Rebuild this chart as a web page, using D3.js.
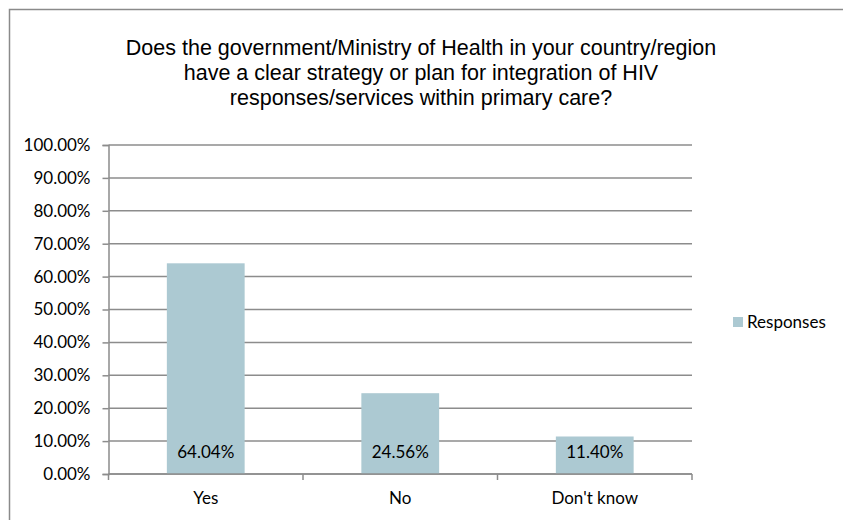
<!DOCTYPE html>
<html>
<head>
<meta charset="utf-8">
<script src="https://cdn.jsdelivr.net/npm/d3@7"></script>
<style>
  body { margin: 0; background: #fff; }
  svg { display: block; }
</style>
</head>
<body>
<div id="chart"></div>
<script>
// chart data
const categories = ['Yes', 'No', "Don't know"];
const responses = [64.04, 24.56, 11.40];
const yTicks = [0, 10, 20, 30, 40, 50, 60, 70, 80, 90, 100];
const titleLines = [
  'Does the government/Ministry of Health in your country/region',
  'have a clear strategy or plan for integration of HIV',
  'responses/services within primary care?'
];
const seriesName = 'Responses';

const width = 843, height = 520;
const barColor = '#acc9d2';
const gridColor = '#8c8c8c';
const labelFont = 'Lato, "Open Sans", sans-serif';
const labelSize = 17;

const svg = d3.select('#chart').append('svg')
  .attr('width', width)
  .attr('height', height);

// outer chart border (runs off the right and bottom edges)
svg.append('rect')
  .attr('x', 9.5).attr('y', 9.5)
  .attr('width', 900).attr('height', 600)
  .attr('fill', 'none')
  .attr('stroke', '#8a8a8a')
  .attr('stroke-width', 1.5);

// title
svg.append('g')
  .selectAll('text')
  .data(titleLines)
  .join('text')
  .attr('x', 421)
  .attr('y', (d, i) => 55 + i * 25)
  .attr('text-anchor', 'middle')
  .attr('font-family', '"Liberation Sans", Arial, sans-serif')
  .attr('font-size', 21.5)
  .attr('fill', '#000')
  .text(d => d);

// plot area
const plot = { left: 108.5, right: 692, top: 145, bottom: 474 };

const x = d3.scaleBand()
  .domain(categories)
  .range([plot.left, plot.right])
  .paddingInner(0.6)
  .paddingOuter(0.3);

const y = d3.scaleLinear()
  .domain([0, 100])
  .range([plot.bottom, plot.top]);

// gridlines
svg.append('g')
  .selectAll('line')
  .data(yTicks)
  .join('line')
  .attr('x1', plot.left)
  .attr('x2', plot.right)
  .attr('y1', d => y(d))
  .attr('y2', d => y(d))
  .attr('stroke', gridColor)
  .attr('stroke-width', 1.5);

// y axis
const yAxis = svg.append('g')
  .attr('transform', `translate(${plot.left},0)`)
  .call(d3.axisLeft(y)
    .tickValues(yTicks)
    .tickSize(6)
    .tickPadding(12)
    .tickFormat(d => d.toFixed(2) + '%'));

yAxis.select('.domain').attr('stroke', gridColor).attr('stroke-width', 1.5);
yAxis.selectAll('.tick line').attr('stroke', gridColor).attr('stroke-width', 1.5);
yAxis.selectAll('.tick text')
  .attr('font-family', labelFont)
  .attr('font-size', labelSize)
  .attr('fill', '#000');

// bars
svg.append('g')
  .selectAll('rect')
  .data(responses)
  .join('rect')
  .attr('x', (d, i) => x(categories[i]))
  .attr('y', d => y(d))
  .attr('width', x.bandwidth())
  .attr('height', d => y(0) - y(d))
  .attr('fill', barColor);

// value labels, inside the base of each bar
svg.append('g')
  .selectAll('text')
  .data(responses)
  .join('text')
  .attr('x', (d, i) => x(categories[i]) + x.bandwidth() / 2)
  .attr('y', y(0) - 22)
  .attr('dy', '0.35em')
  .attr('text-anchor', 'middle')
  .attr('font-family', labelFont)
  .attr('font-size', labelSize)
  .attr('fill', '#000')
  .text(d => d.toFixed(2) + '%');

// x axis, ticks fall between the categories
const xAxisG = svg.append('g')
  .attr('transform', `translate(0,${plot.bottom})`);

xAxisG.append('line')
  .attr('x1', plot.left).attr('x2', plot.right)
  .attr('stroke', gridColor).attr('stroke-width', 1.5);

const edges = d3.range(categories.length + 1).map(i => plot.left + i * (plot.right - plot.left) / categories.length);
xAxisG.selectAll('line.tick')
  .data(edges)
  .join('line')
  .attr('class', 'tick')
  .attr('x1', d => d).attr('x2', d => d)
  .attr('y1', 0).attr('y2', 6)
  .attr('stroke', gridColor).attr('stroke-width', 1.5);

xAxisG.selectAll('text')
  .data(categories)
  .join('text')
  .attr('x', d => x(d) + x.bandwidth() / 2)
  .attr('y', 24)
  .attr('dy', '0.35em')
  .attr('text-anchor', 'middle')
  .attr('font-family', labelFont)
  .attr('font-size', labelSize)
  .attr('fill', '#000')
  .text(d => d);

// legend
const legend = svg.append('g').attr('transform', 'translate(733,322)');
legend.append('rect')
  .attr('x', 0).attr('y', -5)
  .attr('width', 10).attr('height', 10)
  .attr('fill', barColor);
legend.append('text')
  .attr('x', 14)
  .attr('dy', '0.35em')
  .attr('font-family', labelFont)
  .attr('font-size', labelSize)
  .attr('fill', '#000')
  .text(seriesName);
</script>
</body>
</html>
